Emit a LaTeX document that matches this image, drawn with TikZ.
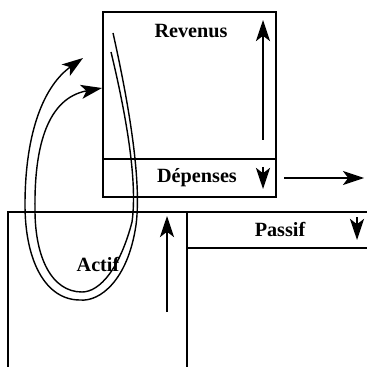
\documentclass[tikz,border=0pt]{standalone}
\usepackage{fontspec}
\setmainfont{Liberation Serif}
\usetikzlibrary{arrows.meta}

\begin{document}
\begin{tikzpicture}[
  x=0.02cm, y=-0.02cm,
  box/.style={draw, line width=1.3pt, inner sep=0pt},
  lbl/.style={font=\fontsize{11.5}{13}\selectfont\bfseries, inner sep=1pt},
  fleche/.style={line width=1.2pt, -{Stealth[length=12pt, width=8pt, inset=3pt]}},
  boucle/.style={line width=0.8pt, -{Stealth[length=12pt, width=8pt, inset=3pt]}},
  >=Stealth
]
\useasboundingbox (0,0) rectangle (366,367);

\node[box, minimum width=3.46cm, minimum height=2.94cm] (rev) at (189.5,85.5) {};
\node[box, minimum width=3.46cm, minimum height=0.76cm] (dep) at (189.5,178) {};
\node[box, minimum width=3.58cm, minimum height=3.12cm] (act) at (97.5,290) {};
\node[box, minimum width=3.7cm, minimum height=0.72cm] (pas) at (279.5,230) {};
\node[box, minimum width=3.7cm, minimum height=2.5cm] (pas-bas) at (279.5,310.5) {};

\node[lbl] (rev-t) at (191,31)  {Revenus};
\node[lbl] (dep-t) at (197,178) {Dépenses};
\node[lbl] (pas-t) at (280,229) {Passif};
\node[lbl] (act-t) at (98,264)  {Actif};

\coordinate (rev-a) at (263,140);
\coordinate (rev-b) at (263,20);
\coordinate (dep-a) at (263,167);
\coordinate (dep-b) at (263,189);
\coordinate (pas-a) at (357,217);
\coordinate (pas-b) at (357,240);
\coordinate (act-a) at (167,312);
\coordinate (act-b) at (167,216);
\coordinate (sortie) at (364,178);

\draw[fleche] (rev-a) -- (rev-b);
\draw[fleche] (dep-a) -- (dep-b);
\draw[fleche] (pas-a) -- (pas-b);
\draw[fleche] (act-a) -- (act-b);
\draw[boucle] ([xshift=4pt]dep.east) -- (sortie);

\draw[boucle] (113,33) .. controls (128,100) and (142,180) .. (136,225)
  .. controls (128,280) and (100,302) .. (80,300)
  .. controls (45,300) and (25,260) .. (25,205)
  .. controls (25,130) and (45,85) .. (83,58);
\draw[boucle] (111,52) .. controls (125,110) and (138,180) .. (132,222)
  .. controls (120,268) and (100,292) .. (82,292)
  .. controls (52,292) and (35,258) .. (35,210)
  .. controls (34,145) and (48,98) .. (102,88);
\end{tikzpicture}
\end{document}
